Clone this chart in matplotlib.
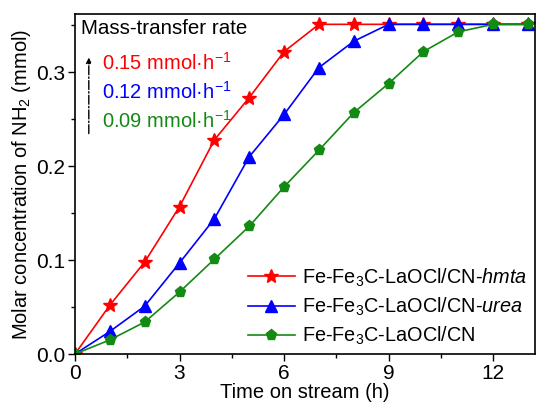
import matplotlib
matplotlib.use("Agg")
import matplotlib.pyplot as plt
from matplotlib.ticker import MultipleLocator

plt.rcParams['font.family'] = ['Liberation Sans', 'DejaVu Sans']
plt.rcParams['mathtext.fontset'] = 'custom'
plt.rcParams['mathtext.rm'] = 'Liberation Sans'
plt.rcParams['mathtext.it'] = 'Liberation Sans:italic'

time_h = [0, 1, 2, 3, 4, 5, 6, 7, 8, 9, 10, 11, 12, 13]
hmta = [0, 0.052, 0.098, 0.157, 0.228, 0.273, 0.322, 0.351, 0.351, 0.351, 0.351, 0.351, 0.351, 0.351]
urea = [0, 0.024, 0.051, 0.097, 0.144, 0.210, 0.255, 0.305, 0.333, 0.351, 0.351, 0.351, 0.351, 0.351]
plain = [0, 0.015, 0.034, 0.066, 0.101, 0.136, 0.178, 0.217, 0.257, 0.288, 0.322, 0.343, 0.351, 0.351]

labels = ['Fe-Fe$_3$C-LaOCl/CN-$\\it{hmta}$',
          'Fe-Fe$_3$C-LaOCl/CN-$\\it{urea}$',
          'Fe-Fe$_3$C-LaOCl/CN']
rates = ['0.15 mmol·h$^{-1}$', '0.12 mmol·h$^{-1}$', '0.09 mmol·h$^{-1}$']
colors = ['#ff0000', '#0000ff', '#138a13']

fig = plt.figure(figsize=(5.37, 4.05), dpi=100)
ax = fig.add_axes([75/537, 1-354/405, (535-75)/537, (354-14)/405])

ax.plot(time_h, hmta, color=colors[0], marker='*', ms=10, lw=1.2, label=labels[0])
ax.plot(time_h, urea, color=colors[1], marker='^', ms=8, lw=1.2, label=labels[1])
ax.plot(time_h, plain, color=colors[2], marker='p', ms=8, lw=1.2, label=labels[2])

ax.set_xlim(0, 13.2)
ax.set_ylim(0, 0.362)
ax.xaxis.set_major_locator(MultipleLocator(3))
ax.xaxis.set_minor_locator(MultipleLocator(1.5))
ax.yaxis.set_major_locator(MultipleLocator(0.1))
ax.yaxis.set_minor_locator(MultipleLocator(0.05))
ax.tick_params(which='major', direction='out', length=5, width=1, labelsize=15, pad=2)
ax.tick_params(which='minor', direction='out', length=3, width=1)
for s in ax.spines.values():
    s.set_linewidth(1.2)

ax.set_xlabel('Time on stream (h)', fontsize=14.5, labelpad=0.5)
ax.set_ylabel('Molar concentration of NH$_2$ (mmol)', fontsize=14.5, labelpad=2)

leg = ax.legend(loc='lower left', frameon=False, fontsize=14.3, handlelength=2.4,
                handletextpad=0.35, labelspacing=0.35, borderaxespad=0.0, borderpad=0.0,
                bbox_to_anchor=(0.375, 0.02))

ax.text(0.013, 0.985, 'Mass-transfer rate', transform=ax.transAxes, fontsize=14.8,
        ha='left', va='top')
for i, (r, c) in enumerate(zip(rates, colors)):
    ax.text(0.058, 0.855 - i*0.084, r, transform=ax.transAxes, fontsize=14.5,
            color=c, ha='left', va='center')
ax.annotate('', xy=(0.03, 0.88), xytext=(0.03, 0.64), xycoords='axes fraction',
            arrowprops=dict(arrowstyle='-|>', lw=1, ls='-.', color='black',
                            mutation_scale=8))

fig.savefig('out.png', dpi=100)
